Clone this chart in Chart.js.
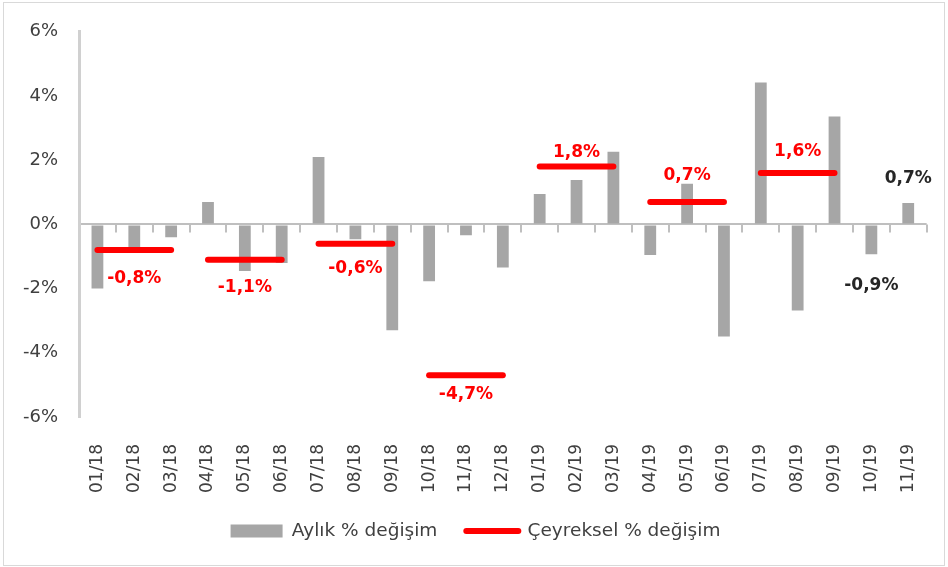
<!DOCTYPE html>
<html>
<head>
<meta charset="utf-8">
<script src="https://cdn.jsdelivr.net/npm/chart.js@4/dist/chart.umd.min.js"></script>
<style>
    html, body { margin: 0; padding: 0; background: #fff; }
    #wrap { position: relative; width: 948px; height: 567px; }
    #frame {
        position: absolute; left: 3px; top: 2px; width: 942px; height: 564px;
        box-sizing: border-box; border: 1px solid #d9d9d9; pointer-events: none;
    }
</style>
</head>
<body>
<div id="wrap">
    <canvas id="grafik" width="948" height="567"></canvas>
    <div id="frame"></div>
</div>
<script>
const aylar = ['01/18', '02/18', '03/18', '04/18', '05/18', '06/18', '07/18', '08/18', '09/18', '10/18', '11/18', '12/18',
    '01/19', '02/19', '03/19', '04/19', '05/19', '06/19', '07/19', '08/19', '09/19', '10/19', '11/19']

// aylık % değişim
const aylikDegisim = [-2.0, -0.8, -0.4, 0.7, -1.45, -1.2, 2.1, -0.46, -3.3, -1.77, -0.34, -1.34,
    0.95, 1.38, 2.26, -0.95, 1.27, -3.49, 4.42, -2.68, 3.36, -0.93, 0.67]

// çeyreksel % değişim (her çeyrek 3 ay)
const ceyrekBaslangic = [0, 3, 6, 9, 12, 15, 18]
const ceyreklikDegisim = [-0.8, -1.1, -0.6, -4.7, 1.8, 0.7, 1.6]

// etiket yazılan aylar
const etiketliAylar = ['10/19', '11/19']

const yEtiketleri = [-6, -4, -2, 0, 2, 4, 6]

const GRI = '#a6a6a6'
const KIRMIZI = '#ff0000'
const YAZI = '#404040'

const ceyrekSerisi = aylar.map((ay, i) => {
    const q = ceyrekBaslangic.findIndex(s => i >= s && i < s + 3)
    return q === -1 ? null : ceyreklikDegisim[q]
})

function yuzde(v) {
    return v.toFixed(1).replace('.', ',') + '%'
}

// sıfır çizgisi üzerindeki küçük çentikler ve değer etiketleri
const ekler = {
    id: 'ekler',
    beforeDatasetsDraw(chart) {
        const { ctx, scales: { x, y } } = chart
        const sifir = y.getPixelForValue(0)
        const adim = x.getPixelForValue(1) - x.getPixelForValue(0)
        ctx.save()
        ctx.strokeStyle = '#bfbfbf'
        ctx.lineWidth = 2
        for (let i = 1; i <= aylar.length; i++) {
            const px = Math.round(x.getPixelForValue(i) - adim / 2)
            ctx.beginPath()
            ctx.moveTo(px, sifir)
            ctx.lineTo(px, sifir + 8)
            ctx.stroke()
        }
        ctx.restore()
    },
    afterDatasetsDraw(chart, args, opts) {
        const { ctx, scales: { x, y } } = chart
        ctx.save()
        ctx.font = 'bold 17px "DejaVu Sans"'
        ctx.textAlign = 'center'
        ctx.textBaseline = 'middle'

        ctx.fillStyle = KIRMIZI
        ceyreklikDegisim.forEach((v, q) => {
            const px = x.getPixelForValue(ceyrekBaslangic[q] + 1)
            const py = y.getPixelForValue(v) + opts.ceyrekKayma[q]
            ctx.fillText(yuzde(v), px, py)
        })

        ctx.fillStyle = '#262626'
        etiketliAylar.forEach((ay, k) => {
            const i = aylar.indexOf(ay)
            const v = aylikDegisim[i]
            const px = x.getPixelForValue(i)
            const py = y.getPixelForValue(v) + opts.aylikKayma[k]
            ctx.fillText(yuzde(v), px, py)
        })
        ctx.restore()
    }
}

new Chart(document.getElementById('grafik'), {
    data: {
        labels: aylar,
        datasets: [
            {
                type: 'bar',
                label: 'Aylık % değişim',
                data: aylikDegisim,
                backgroundColor: GRI,
                borderWidth: 0,
                barPercentage: 0.32,
                categoryPercentage: 1,
                order: 2
            },
            {
                type: 'line',
                label: 'Çeyreksel % değişim',
                data: ceyrekSerisi,
                borderColor: KIRMIZI,
                backgroundColor: KIRMIZI,
                borderWidth: 6,
                borderCapStyle: 'round',
                pointRadius: 0,
                spanGaps: false,
                order: 1,
                segment: {
                    borderColor: c => (c.p0DataIndex % 3 === 2 ? 'transparent' : KIRMIZI)
                }
            }
        ]
    },
    options: {
        responsive: false,
        animation: false,
        layout: { padding: { left: 20, right: 17, top: 30, bottom: 16.75 } },
        scales: {
            x: {
                grid: { display: false },
                border: { display: false },
                ticks: {
                    autoSkip: false,
                    minRotation: 90,
                    maxRotation: 90,
                    padding: 19,
                    color: YAZI,
                    font: { family: '"DejaVu Sans"', size: 17 }
                },
                afterFit: s => { s.height = 75.75 }
            },
            y: {
                min: -6,
                max: 6,
                afterBuildTicks: s => { s.ticks = yEtiketleri.map(v => ({ value: v })) },
                grid: {
                    drawTicks: false,
                    color: c => (c.tick && c.tick.value === 0 ? '#bfbfbf' : 'transparent'),
                    lineWidth: 2
                },
                border: { display: true, color: '#d0d0d0', width: 3 },
                ticks: {
                    padding: 21,
                    color: YAZI,
                    font: { family: '"DejaVu Sans"', size: 18 },
                    callback: v => v + '%'
                },
                afterFit: s => { s.width = 59 }
            }
        },
        plugins: {
            tooltip: { enabled: false },
            legend: {
                position: 'bottom',
                labels: {
                    usePointStyle: true,
                    pointStyleWidth: 52,
                    boxHeight: 13,
                    padding: 29,
                    color: YAZI,
                    font: { family: '"DejaVu Sans"', size: 18.5 },
                    sort: (a, b) => a.datasetIndex - b.datasetIndex,
                    generateLabels: chart => {
                        const items = Chart.defaults.plugins.legend.labels.generateLabels(chart)
                        items.forEach(it => {
                            if (it.datasetIndex === 0) {
                                it.pointStyle = 'rect'
                                it.lineWidth = 0
                            } else {
                                it.pointStyle = 'line'
                                it.strokeStyle = KIRMIZI
                                it.lineWidth = 6
                                it.lineCap = 'round'
                            }
                        })
                        return items
                    }
                }
            },
            ekler: {
                ceyrekKayma: [28, 28, 25, 19, -14, -26, -21],
                aylikKayma: [31, -24]
            }
        }
    },
    plugins: [ekler]
})
</script>
</body>
</html>
